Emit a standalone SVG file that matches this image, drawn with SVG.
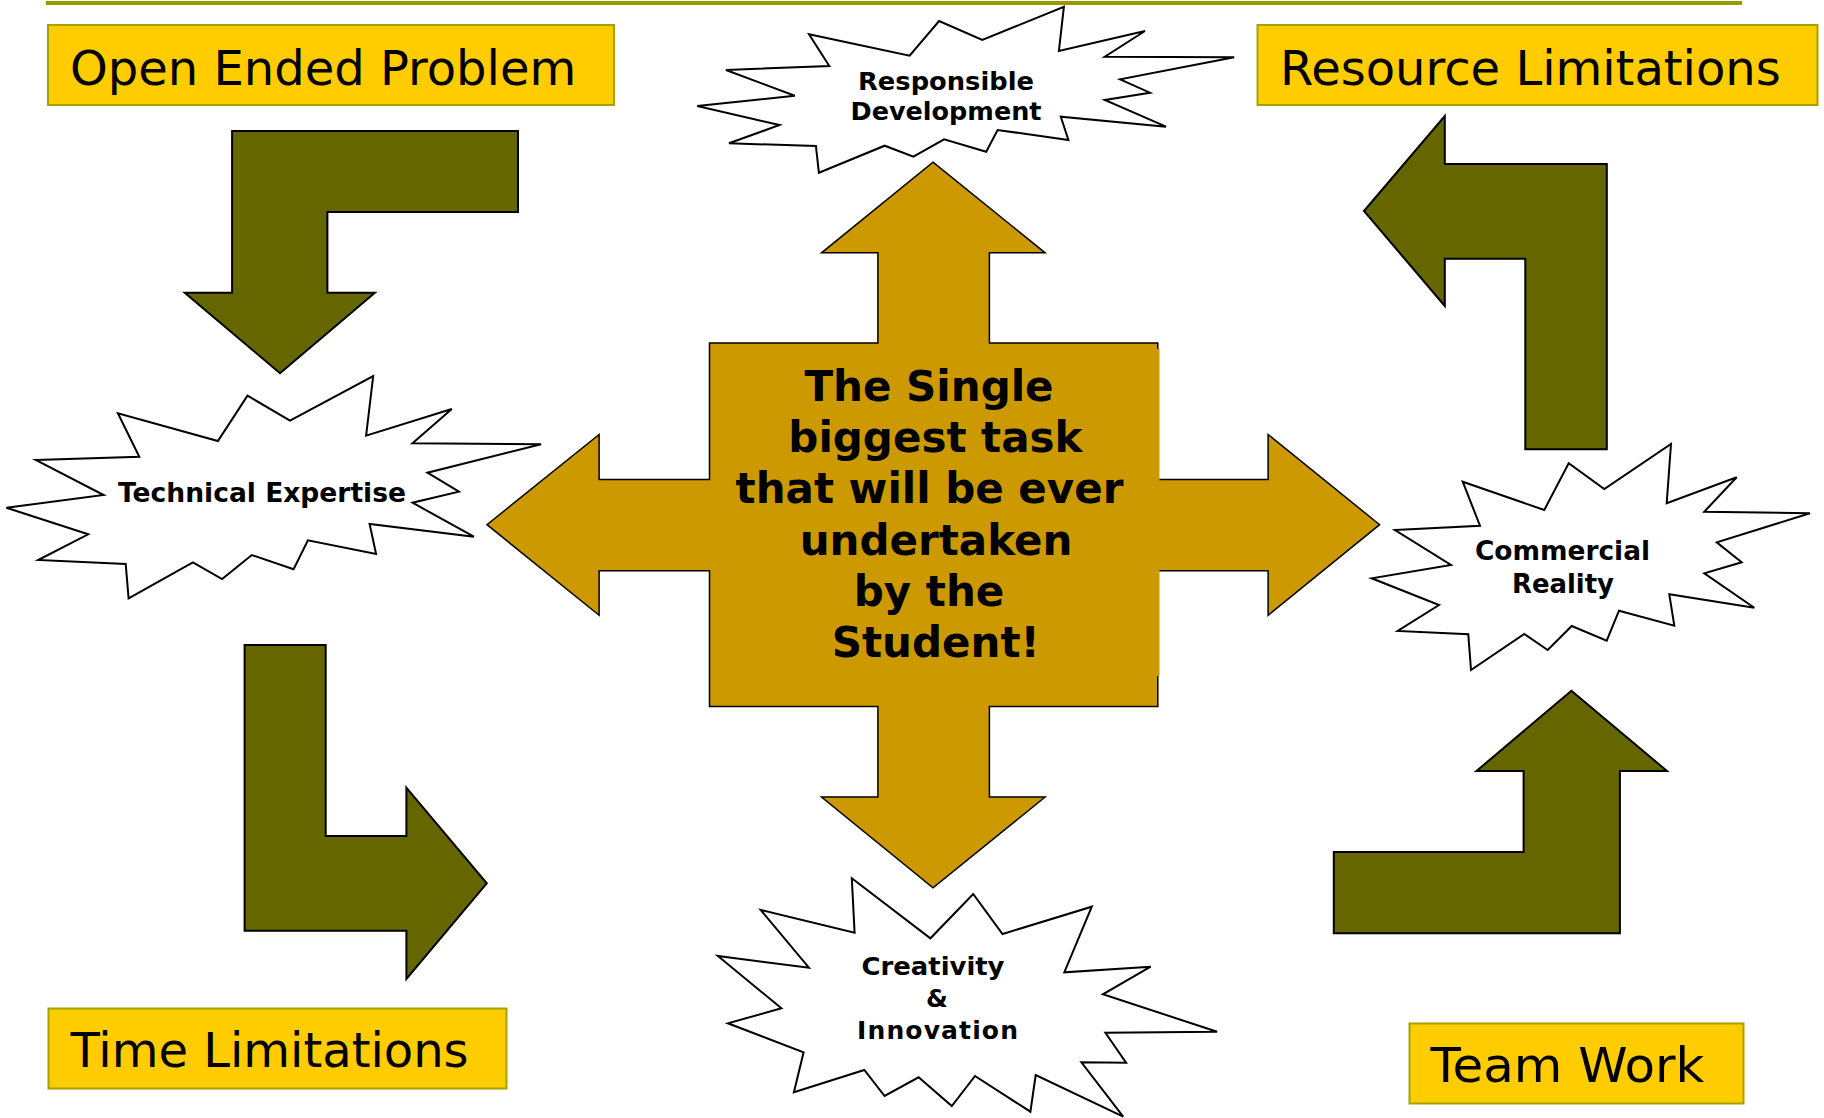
<svg xmlns="http://www.w3.org/2000/svg" width="1824" height="1118" viewBox="0 0 1824 1118">
<style>
.box{fill:#FFCC00;stroke:#A3A300;stroke-width:2}
.big{font-family:"DejaVu Sans",Verdana,sans-serif;font-size:48px;fill:#000}
.burst{fill:#FFFFFF;stroke:#000;stroke-width:2;stroke-linejoin:miter}
.lbl{font-family:"DejaVu Sans",Verdana,sans-serif;font-weight:bold;font-size:25px;fill:#000;text-anchor:middle}
.bent{fill:#666600;stroke:#000;stroke-width:2;stroke-linejoin:miter}
.cross{fill:#CC9900;stroke:#000;stroke-width:1.5}
.ctext{font-family:"DejaVu Sans",Verdana,sans-serif;font-weight:bold;font-size:42px;fill:#000;text-anchor:middle}
</style>
<rect width="1824" height="1118" fill="#FFFFFF"/>
<line x1="46" y1="3" x2="1742" y2="3" stroke="#999900" stroke-width="4"/>

<g id="open-ended-problem">
<rect class="box" x="48" y="25" width="566" height="80"/>
<text class="big" x="70" y="85">Open Ended Problem</text>
</g>
<g id="resource-limitations">
<rect class="box" x="1257.5" y="25" width="560" height="80"/>
<text class="big" x="1280" y="85">Resource Limitations</text>
</g>
<g id="time-limitations">
<rect class="box" x="48.5" y="1008.5" width="458" height="80"/>
<text class="big" x="70.5" y="1067">Time Limitations</text>
</g>
<g id="team-work">
<rect class="box" x="1409.5" y="1023.5" width="334" height="80"/>
<text class="big" x="1430.5" y="1082" textLength="274" lengthAdjust="spacingAndGlyphs">Team Work</text>
</g>

<g id="responsible-development">
<polygon class="burst" points="725.9,70 829.3,66 809,34.3 909.6,55.7 939.1,21 982.3,40 1063.9,6.7 1058.9,51 1145,31 1104.8,56.7 1234.2,57.3 1120.1,79.3 1150,92.7 1104.8,100 1166,126.7 1060.8,116.7 1068.4,140 997.6,130 986.2,151.7 944.1,139.3 913.4,156.7 884.7,145.7 818.9,172.7 815.9,146 729,143.3 779.5,125 697.2,106 794.8,95.7"/>
<text class="lbl" x="946" y="89.5" textLength="176" lengthAdjust="spacingAndGlyphs">Responsible</text>
<text class="lbl" x="946" y="120" textLength="191" lengthAdjust="spacingAndGlyphs">Development</text>
</g>

<g id="technical-expertise">
<polygon class="burst" points="35.7,460 139.3,456.7 117.9,413.3 217.9,441 247.5,395.7 290,420.7 373.2,376 366.1,435.7 451.8,409 412.5,443.3 541.1,444.3 427.5,472.7 458.9,491.7 412.5,502.7 473.9,536.7 369.6,524 376.1,554 307.9,540.3 293.6,569.3 251.8,555 222.1,579 192.9,562.3 128.6,598.3 125.7,564 38.2,560 88.2,534.3 6.4,507.7 103.6,495"/>
<text class="lbl" x="262" y="502" style="font-size:26px" textLength="288" lengthAdjust="spacingAndGlyphs">Technical Expertise</text>
</g>

<g id="commercial-reality">
<polygon class="burst" points="1395,530 1480,525.7 1462.7,481.7 1544.3,510 1568.7,463.3 1604.3,489 1671,444 1666.7,503.3 1736.7,477.3 1704.3,511.7 1810,513.3 1716.7,542.3 1741.7,562.3 1704.3,573.3 1754.3,607.7 1669.3,594.3 1674.3,625.7 1619,610.7 1606.7,640.7 1571.7,626 1547.7,650 1524.3,634 1471,670 1468.3,634.3 1397.7,631 1439,605 1371.7,578.3 1451,565"/>
<text class="lbl" x="1562.5" y="560" style="font-size:26px" textLength="175" lengthAdjust="spacingAndGlyphs">Commercial</text>
<text class="lbl" x="1563" y="593" style="font-size:26px" textLength="102" lengthAdjust="spacingAndGlyphs">Reality</text>
</g>

<g id="creativity-innovation">
<polygon class="burst" points="851.8,878.3 930.4,938.3 973.2,894 1002.5,934 1091.8,906.7 1064.3,972.3 1150.7,966.7 1102.9,994.3 1217.1,1031.7 1105.4,1032.7 1126.1,1062.7 1081.4,1062.3 1123.2,1116.7 1035.7,1075 1030.4,1111.7 975,1076 951.8,1106 918.6,1077.3 884.6,1096 864.3,1070 793.9,1092.3 803.6,1052.3 727.9,1023.3 781.4,1008.3 717.9,956 808.9,967.7 760.7,910 854.6,932.7"/>
<text class="lbl" x="933" y="975" textLength="143" lengthAdjust="spacingAndGlyphs">Creativity</text>
<text class="lbl" x="937" y="1007">&amp;</text>
<text class="lbl" x="937.5" y="1039" textLength="161" lengthAdjust="spacing">Innovation</text>
</g>

<g id="central-task">
<polygon class="cross" points="933,162.1 1045.1,252.8 989.4,252.8 989.4,342.9 1157.8,342.9 1157.8,479.6 1268.1,479.6 1268.1,434.5 1379.6,524.7 1268.1,615.3 1268.1,570.7 1157.8,570.7 1157.8,706.5 989.4,706.5 989.4,797.1 1045.1,797.1 933,887.8 821.5,797.1 877.9,797.1 877.9,706.5 709.5,706.5 709.5,570.7 599.1,570.7 599.1,615.3 487,524.7 599.1,434.5 599.1,479.6 709.5,479.6 709.5,342.9 877.9,342.9 877.9,252.8 821.5,252.8"/>
<rect x="1156.5" y="349" width="3" height="327" fill="#CC9900"/>
<text class="ctext" x="929" y="401">The Single</text>
<text class="ctext" x="935.4" y="452">biggest task</text>
<text class="ctext" x="929.5" y="503">that will be ever</text>
<text class="ctext" x="936" y="554.5">undertaken</text>
<text class="ctext" x="929" y="605.5">by the</text>
<text class="ctext" x="935.7" y="656.5">Student!</text>
</g>

<g id="connectors">
<polygon class="bent" points="232.1,131 518,131 518,212 327.4,212 327.4,292.7 374.9,292.7 280,373.3 184.7,292.7 232.1,292.7"/>
<polygon class="bent" points="1364,211 1444.8,116 1444.8,164 1606.8,164 1606.8,449.3 1525.3,449.3 1525.3,258.7 1444.8,258.7 1444.8,306"/>
<polygon class="bent" points="244.6,645 325.7,645 325.7,836 406.4,836 406.4,787.7 486.8,883.3 406.4,979 406.4,930.7 244.6,930.7"/>
<polygon class="bent" points="1571.4,690.7 1667,771 1619.9,771 1619.9,933.3 1333.8,933.3 1333.8,852 1523.6,852 1523.6,771 1476.5,771"/>
</g>
</svg>
